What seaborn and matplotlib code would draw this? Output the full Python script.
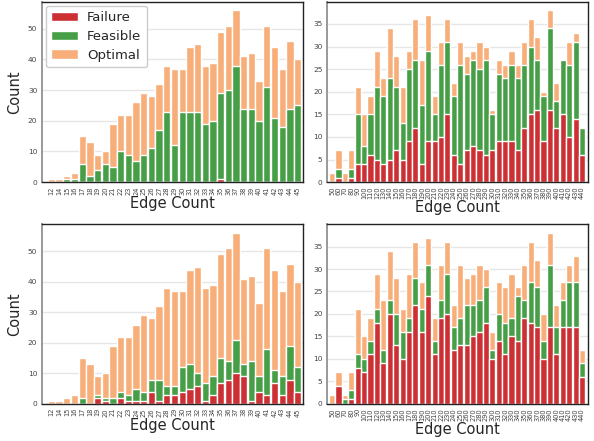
import numpy as np
import matplotlib
matplotlib.use("Agg")
import matplotlib.pyplot as plt
import seaborn as sns

# edge count categories
small_edges = [12, 14, 15, 16, 17, 18, 19, 20, 21, 22, 23, 24, 25, 26, 27, 28, 29,
               30, 31, 32, 33, 34, 35, 36, 37, 38, 39, 40, 41, 42, 43, 44, 45]
large_edges = list(range(50, 450, 10))

# top-left
fail_tl = [0, 0, 0, 0, 0, 0, 0, 0, 0, 0, 0, 0, 0, 0, 0, 0, 0,
           0, 0, 0, 0, 0, 1, 0, 0, 0, 0, 0, 0, 0, 0, 0, 0]
feas_tl = [0, 0, 1, 1, 6, 2, 4, 6, 5, 10, 9, 7, 9, 11, 17, 23, 12,
           23, 23, 23, 19, 20, 28, 30, 38, 24, 24, 20, 31, 21, 18, 24, 25]
opt_tl = [1, 1, 1, 2, 9, 11, 5, 4, 14, 12, 13, 19, 20, 17, 15, 15, 25,
          14, 21, 22, 19, 19, 20, 21, 18, 17, 18, 13, 20, 23, 19, 22, 15]

# bottom-left
fail_bl = [0, 0, 0, 0, 0, 0, 2, 1, 0, 2, 1, 1, 1, 4, 1, 3, 3,
           4, 5, 6, 1, 3, 7, 8, 10, 9, 1, 4, 3, 7, 3, 8, 4]
feas_bl = [0, 0, 0, 0, 2, 0, 1, 1, 2, 2, 2, 4, 3, 4, 7, 3, 3,
           8, 8, 4, 6, 6, 8, 6, 11, 4, 13, 5, 15, 4, 6, 11, 8]
opt_bl = [1, 1, 2, 3, 13, 13, 6, 8, 17, 18, 19, 21, 25, 20, 24, 32, 31,
          25, 31, 35, 31, 30, 34, 37, 35, 28, 28, 24, 33, 33, 28, 27, 28]

# top-right
fail_tr = [0, 1, 0, 1, 4, 4, 6, 5, 4, 5, 7, 5, 9, 12, 4, 9, 9, 10, 15, 6,
           4, 7, 8, 7, 6, 7, 9, 9, 9, 7, 12, 15, 16, 9, 16, 12, 15, 10, 14, 6]
feas_tr = [0, 2, 0, 2, 11, 4, 9, 16, 15, 18, 14, 8, 16, 15, 13, 20, 6, 16, 16, 13,
           22, 17, 19, 18, 21, 8, 15, 14, 17, 16, 14, 15, 11, 10, 18, 6, 12, 16, 17, 6]
opt_tr = [2, 4, 2, 4, 6, 7, 4, 8, 4, 11, 7, 8, 4, 9, 10, 8, 4, 5, 5, 3,
          5, 4, 2, 6, 3, 1, 3, 3, 3, 3, 5, 6, 5, 1, 4, 4, 0, 5, 2, 0]

# bottom-right
fail_br = [0, 4, 0, 1, 8, 7, 11, 18, 9, 20, 13, 10, 16, 22, 16, 24, 11, 19, 20, 12,
           13, 13, 15, 16, 18, 10, 14, 11, 15, 14, 19, 18, 17, 10, 17, 11, 17, 17, 17, 6]
feas_br = [0, 0, 1, 2, 3, 3, 3, 3, 3, 3, 7, 6, 3, 6, 5, 7, 3, 4, 9, 5,
           6, 9, 7, 7, 8, 2, 6, 7, 4, 10, 4, 9, 9, 4, 14, 6, 6, 10, 10, 3]
opt_br = [2, 3, 1, 4, 10, 5, 5, 8, 11, 11, 8, 5, 10, 8, 6, 6, 5, 8, 7, 5,
          12, 6, 7, 8, 4, 4, 7, 8, 10, 2, 8, 9, 6, 6, 7, 5, 4, 4, 6, 3]

C_FAIL = "#cd3034"
C_FEAS = "#469e46"
C_OPT = "#f7ae78"

sns.set_style("white")
plt.rcParams["font.family"] = ["DejaVu Sans"]

fig = plt.figure(figsize=(5.94, 4.41), dpi=100)
ax_tl = fig.add_axes([0.071, 0.587, 0.439, 0.409])
ax_tr = fig.add_axes([0.551, 0.587, 0.439, 0.409])
ax_bl = fig.add_axes([0.071, 0.084, 0.439, 0.407])
ax_br = fig.add_axes([0.551, 0.084, 0.439, 0.407])


def stacked(ax, edges, fail, feas, opt):
    cats = [str(e) for e in edges]
    fail = np.array(fail)
    feas_top = fail + np.array(feas)
    total = feas_top + np.array(opt)
    ax.yaxis.grid(True, color="#e6e6e6", linewidth=1, zorder=0)
    ax.set_axisbelow(True)
    sns.barplot(x=cats, y=total, order=cats, color=C_OPT, saturation=1,
                width=0.95, ax=ax, label="Optimal")
    sns.barplot(x=cats, y=feas_top, order=cats, color=C_FEAS, saturation=1,
                width=0.95, ax=ax, label="Feasible")
    sns.barplot(x=cats, y=fail, order=cats, color=C_FAIL, saturation=1,
                width=0.95, ax=ax, label="Failure")
    ax.set_xlabel("Edge Count", fontsize=10.5, labelpad=1)
    ax.set_ylabel("")
    ax.tick_params(axis="x", labelrotation=90, labelsize=4.8, length=2,
                   width=0.6, pad=1, colors="#444444")
    ax.tick_params(axis="y", labelsize=5.3, length=2, width=0.6, pad=1.5,
                   colors="#444444")
    for side in ["top", "right", "bottom"]:
        ax.spines[side].set_color("#222222")
        ax.spines[side].set_linewidth(1.0)
    ax.spines["left"].set_color("#999999")
    ax.spines["left"].set_linewidth(1.4)
    ax.margins(y=0.05)
    if ax.get_legend() is not None:
        ax.get_legend().remove()


stacked(ax_tl, small_edges, fail_tl, feas_tl, opt_tl)
stacked(ax_bl, small_edges, fail_bl, feas_bl, opt_bl)
stacked(ax_tr, large_edges, fail_tr, feas_tr, opt_tr)
stacked(ax_br, large_edges, fail_br, feas_br, opt_br)

for ax in [ax_tl, ax_bl]:
    ax.set_xlim(-1.2, 32.7)
    ax.set_ylabel("Count", fontsize=10.5, labelpad=4)
    ax.set_yticks([0, 10, 20, 30, 40, 50])
for ax in [ax_tr, ax_br]:
    ax.set_xlim(-0.75, 39.95)
    ax.set_yticks([0, 5, 10, 15, 20, 25, 30, 35])

handles, labels = ax_tl.get_legend_handles_labels()
order = [labels.index(l) for l in ["Failure", "Feasible", "Optimal"]]
ax_tl.legend([handles[i] for i in order], [labels[i] for i in order],
             loc="upper left", fontsize=9.5, handlelength=2.0, handleheight=0.75,
             handletextpad=0.7, labelspacing=0.45, borderaxespad=0.3,
             framealpha=1)

fig.savefig("out.png", dpi=100)
